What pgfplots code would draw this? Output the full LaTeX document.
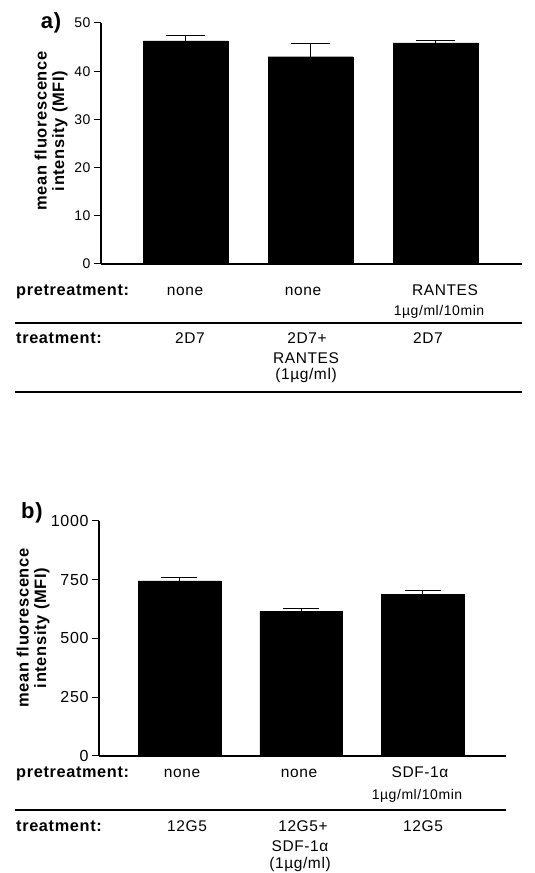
\documentclass[border=0pt]{standalone}
\usepackage{fontspec}
\setmainfont{Liberation Sans}[LetterSpace=4]
\usepackage{pgfplots}
\pgfplotsset{compat=1.18}
\newcommand{\rowf}{\fontsize{15.5}{18}\selectfont}
\newcommand{\smf}{\fontsize{14}{16}\selectfont}
\newcommand{\labf}{\fontsize{16.3}{18}\selectfont\bfseries}
\newcommand{\ylf}{\fontsize{16.5}{17.5}\selectfont\bfseries}
\begin{document}
\begin{tikzpicture}[x=1pt,y=1pt]
\path[use as bounding box] (0,0) rectangle (535,873);
\pgfplotsset{
  panel/.style={
    anchor=south west, scale only axis,
    xtick=\empty, axis x line=bottom, axis y line=left,
    axis line style={-, line width=1.3pt},
    tick align=outside, major tick length=7pt,
    tick style={line width=1pt, black},
    /pgf/number format/assume math mode=true,
    /pgf/number format/1000 sep={},
    clip=false,
  },
  barplot/.style={ybar, fill=black, draw=black, bar width=0.68,
    error bars/.cd, y dir=plus, y explicit,
    error mark=|,
    error bar style={line width=1pt, black},
    error mark options={line width=1pt, black, mark size=#1}},
}
% ---------- panel a ----------
\begin{axis}[panel, at={(101pt,609pt)}, width=421pt, height=241pt,
  xmin=0.324, xmax=3.692, ymin=0, ymax=50, ytick={0,10,20,30,40,50},
  yticklabel style={font=\fontsize{14}{16}\selectfont}]
\addplot[barplot=19.5pt] coordinates {(1,46.3) +- (0,1.2) (2,43.0) +- (0,2.8) (3,45.9) +- (0,0.4)};
\end{axis}
\node[font=\fontsize{22}{24}\selectfont\bfseries] at (51,850) {a)};
\node[rotate=90, align=center, font=\ylf, inner sep=0pt] at (51,742) {mean fluorescence\\intensity (MFI)};
\node[anchor=base west, font=\labf, inner sep=0pt] at (16,577) {pretreatment:};
\node[anchor=base, font=\rowf, inner sep=0pt] at (185,577) {none};
\node[anchor=base, font=\rowf, inner sep=0pt] at (303,577) {none};
\node[anchor=base, font=\rowf, inner sep=0pt] at (445,577) {RANTES};
\node[anchor=base, font=\smf, inner sep=0pt] at (439,557) {1µg/ml/10min};
\draw[line width=1.3pt] (15,550) -- (522,550);
\node[anchor=base west, font=\labf, inner sep=0pt] at (16,529) {treatment:};
\node[anchor=base, font=\rowf, inner sep=0pt] at (190,529) {2D7};
\node[anchor=base, font=\rowf, inner sep=0pt] at (307,529) {2D7+};
\node[anchor=base, font=\rowf, inner sep=0pt] at (306,509) {RANTES};
\node[anchor=base, font=\rowf, inner sep=0pt] at (306,493) {(1µg/ml)};
\node[anchor=base, font=\rowf, inner sep=0pt] at (428,529) {2D7};
\draw[line width=1.3pt] (15,481) -- (522,481);
% ---------- panel b ----------
\begin{axis}[panel, at={(99pt,117pt)}, width=407pt, height=235.3pt,
  xmin=0.339, xmax=3.682, ymin=0, ymax=1000, ytick={0,250,500,750,1000},
  yticklabel style={font=\fontsize{16}{18}\selectfont}]
\addplot[barplot=18pt] coordinates {(1,744) +- (0,13) (2,616) +- (0,10) (3,687) +- (0,16)};
\end{axis}
\node[font=\fontsize{22}{24}\selectfont\bfseries] at (32,360) {b)};
\node[rotate=90, align=center, font=\ylf, inner sep=0pt] at (33,245) {mean fluorescence\\intensity (MFI)};
\node[anchor=base west, font=\labf, inner sep=0pt] at (16,95) {pretreatment:};
\node[anchor=base, font=\rowf, inner sep=0pt] at (182,95) {none};
\node[anchor=base, font=\rowf, inner sep=0pt] at (299,95) {none};
\node[anchor=base, font=\rowf, inner sep=0pt] at (420,95) {SDF-1α};
\node[anchor=base, font=\smf, inner sep=0pt] at (417,73) {1µg/ml/10min};
\draw[line width=1.3pt] (15,63) -- (506,63);
\node[anchor=base west, font=\labf, inner sep=0pt] at (16,41) {treatment:};
\node[anchor=base, font=\rowf, inner sep=0pt] at (187,41) {12G5};
\node[anchor=base, font=\rowf, inner sep=0pt] at (303,41) {12G5+};
\node[anchor=base, font=\rowf, inner sep=0pt] at (300,21) {SDF-1α};
\node[anchor=base, font=\rowf, inner sep=0pt] at (300,5) {(1µg/ml)};
\node[anchor=base, font=\rowf, inner sep=0pt] at (423,41) {12G5};
\end{tikzpicture}
\end{document}
